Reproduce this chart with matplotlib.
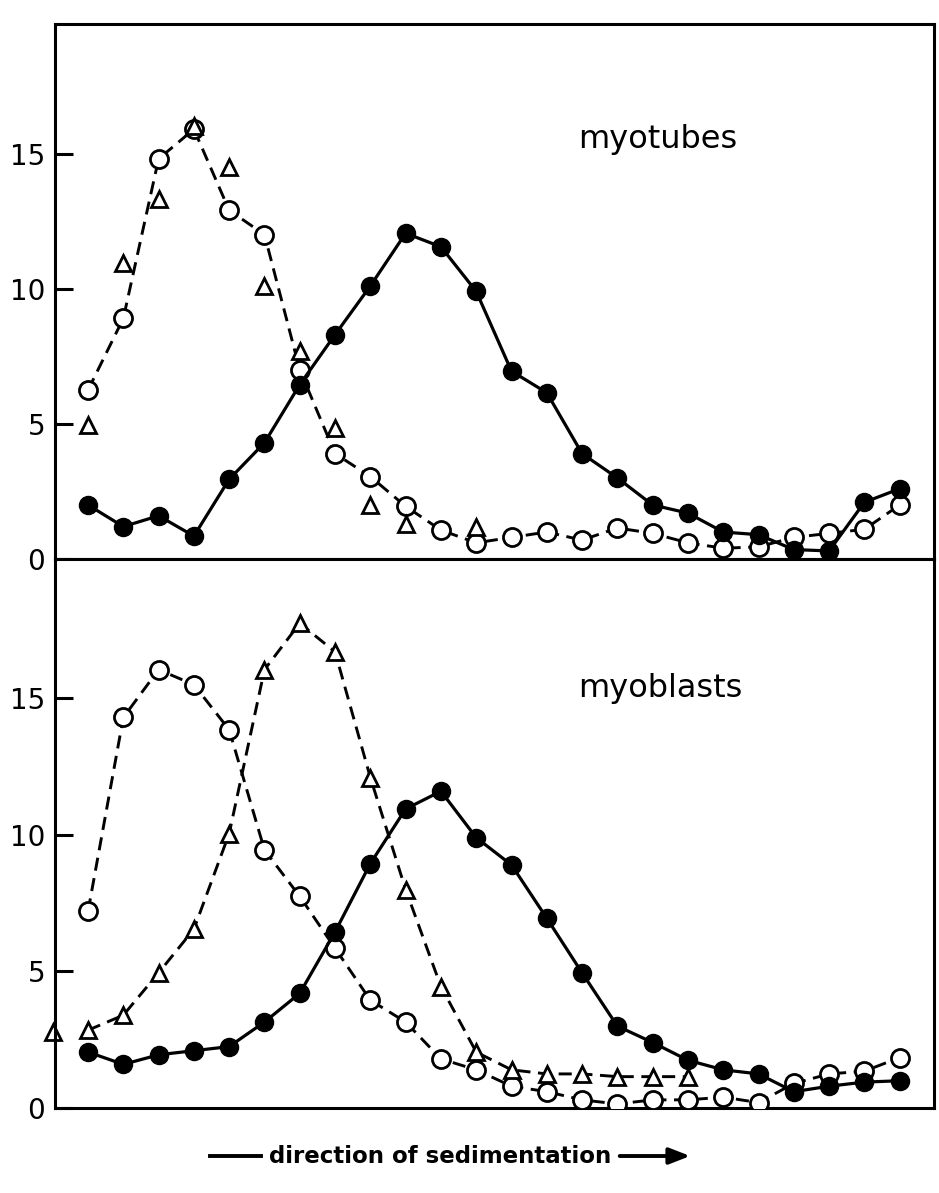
import matplotlib
matplotlib.use('Agg')
import matplotlib.pyplot as plt

plt.rcParams['font.family'] = 'DejaVu Sans'

# fraction number along the gradient (1 = top of tube)
fractions = list(range(1, 25))

# myotubes
tubes_filled = [2.0, 1.2, 1.6, 0.85, 2.95, 4.3, 6.45, 8.3, 10.1, 12.05, 11.55, 9.9,
                6.95, 6.15, 3.9, 3.0, 2.0, 1.7, 1.0, 0.9, 0.35, 0.3, 2.1, 2.6]
tubes_open = [6.25, 8.9, 14.8, 15.9, 12.9, 12.0, 7.0, 3.9, 3.05, 1.95, 1.07, 0.6,
              0.8, 1.0, 0.7, 1.15, 0.95, 0.6, 0.4, 0.45, 0.8, 0.95, 1.1, 2.0]
tubes_tri_x = [1, 2, 3, 4, 5, 6, 7, 8, 9, 10, 12]
tubes_tri = [4.95, 10.95, 13.3, 16.0, 14.5, 10.1, 7.7, 4.85, 2.0, 1.3, 1.2]

# myoblasts
blasts_filled = [2.05, 1.6, 1.95, 2.1, 2.25, 3.15, 4.2, 6.45, 8.95, 10.95, 11.6, 9.9,
                 8.9, 6.95, 4.95, 3.0, 2.4, 1.75, 1.4, 1.25, 0.6, 0.8, 0.95, 1.0]
blasts_open = [7.2, 14.3, 16.05, 15.5, 13.85, 9.45, 7.75, 5.85, 3.95, 3.15, 1.8, 1.4,
               0.8, 0.6, 0.3, 0.15, 0.3, 0.3, 0.4, 0.2, 0.9, 1.25, 1.35, 1.85]
blasts_tri_x = list(range(1, 19))
blasts_tri = [2.85, 3.4, 4.95, 6.55, 10.05, 16.05, 17.75, 16.7, 12.1, 8.0, 4.45, 2.05,
              1.4, 1.25, 1.25, 1.15, 1.15, 1.15]
# lone triangle sitting on the axis, not joined to the curve
blasts_tri_edge_x = [0]
blasts_tri_edge = [2.8]

yticks = [0, 5, 10, 15]

fig = plt.figure(figsize=(9.39, 11.93), dpi=100)
ax = fig.add_axes([0.0586, 0.5314, 0.936, 0.4487])
ax2 = fig.add_axes([0.0586, 0.0712, 0.936, 0.4602])

dash = (0, (4.5, 2.6))
lw = 2.1

def draw_panel(a, filled, opened, tri_x, tri, tri_line):
    a.plot(fractions, opened, color='black', linestyle=dash, linewidth=lw,
           marker='o', markersize=13, markerfacecolor='white',
           markeredgecolor='black', markeredgewidth=2.0, zorder=3)
    a.plot(tri_x, tri, color='black', linestyle=dash if tri_line else 'none',
           linewidth=lw, marker='^', markersize=11, markerfacecolor='white',
           markeredgecolor='black', markeredgewidth=2.0, zorder=3)
    a.plot(fractions, filled, color='black', linestyle='-', linewidth=lw + 0.2,
           marker='o', markersize=13, markerfacecolor='black',
           markeredgecolor='black', zorder=4)

draw_panel(ax, tubes_filled, tubes_open, tubes_tri_x, tubes_tri, False)
draw_panel(ax2, blasts_filled, blasts_open, blasts_tri_x, blasts_tri, True)
ax2.plot(blasts_tri_edge_x, blasts_tri_edge, linestyle='none', marker='^',
         markersize=11, markerfacecolor='white', markeredgecolor='black',
         markeredgewidth=2.0, clip_on=False)

ax.set_ylim(0, 19.8)
ax2.set_ylim(0, 20.1)

for a in (ax, ax2):
    a.set_xlim(0.065, 24.97)
    a.set_xticks([])
    a.set_yticks(yticks)
    a.tick_params(axis='y', direction='in', length=13, width=2.2, labelsize=20, pad=7)
    for s in a.spines.values():
        s.set_linewidth(2.2)

ax.text(0.595, 0.783, 'myotubes', transform=ax.transAxes, fontsize=23,
        ha='left', va='center')
ax2.text(0.595, 0.765, 'myoblasts', transform=ax2.transAxes, fontsize=23,
         ha='left', va='center')

# axis caption with its leading rule and trailing arrow
ylab = 0.031
fig.text(0.4686, ylab, 'direction of sedimentation', fontsize=16.5,
         fontweight='bold', ha='center', va='center')
fig.add_artist(plt.Line2D([0.224, 0.278], [ylab, ylab], color='black', linewidth=2.8))
fig.add_artist(matplotlib.patches.FancyArrowPatch(
    (0.657, ylab), (0.738, ylab), transform=fig.transFigure,
    arrowstyle='-|>,head_length=0.9,head_width=0.35', color='black',
    linewidth=2.8, mutation_scale=14))

fig.savefig('out.png', dpi=100)
